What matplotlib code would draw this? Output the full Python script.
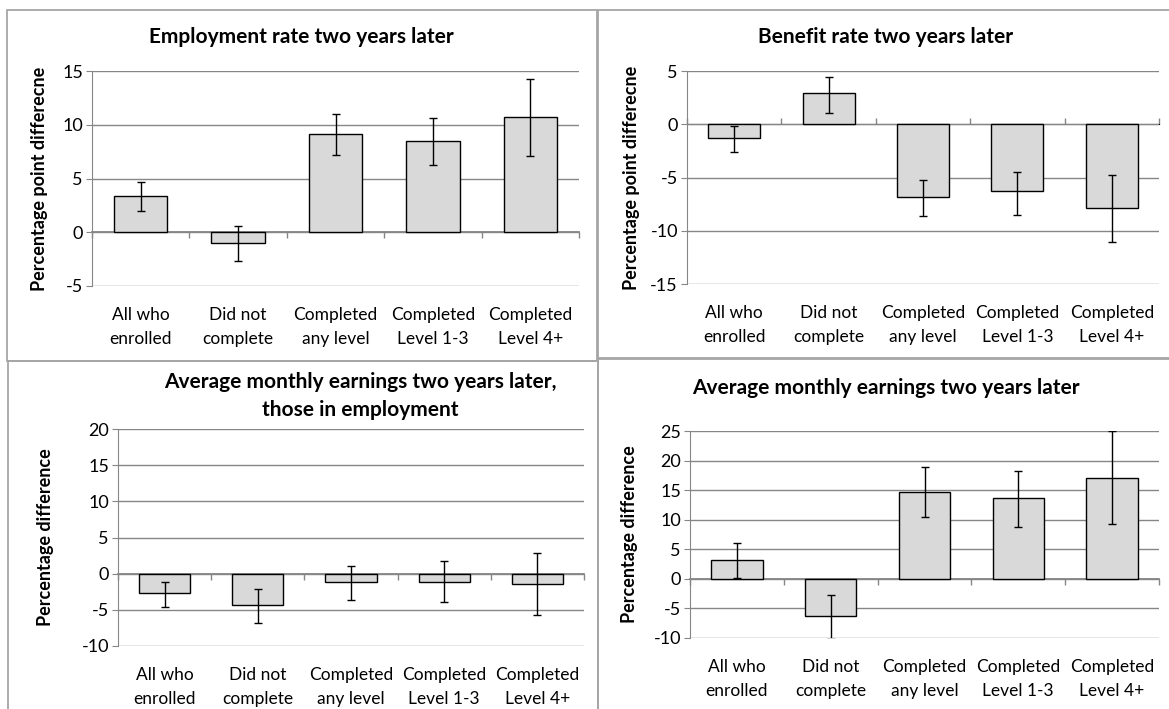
import matplotlib.pyplot as plt
import matplotlib.patches as patches
import numpy as np

plt.rcParams['font.family'] = ['Lato', 'DejaVu Sans']
plt.rcParams['axes.unicode_minus'] = False

categories = ['All who\nenrolled', 'Did not\ncomplete', 'Completed\nany level',
              'Completed\nLevel 1-3', 'Completed\nLevel 4+']

# panel values: estimate, upper and lower end of the interval
emp_rate = [3.4, -1.0, 9.1, 8.5, 10.7]
emp_hi = [4.7, 0.6, 11.0, 10.6, 14.3]
emp_lo = [2.0, -2.7, 7.2, 6.3, 7.1]

ben_rate = [-1.3, 2.9, -6.8, -6.3, -7.9]
ben_hi = [-0.2, 4.4, -5.2, -4.5, -4.8]
ben_lo = [-2.6, 1.1, -8.6, -8.5, -11.1]

earn_emp = [-2.7, -4.3, -1.2, -1.2, -1.4]
earn_emp_hi = [-1.1, -2.1, 1.1, 1.7, 2.8]
earn_emp_lo = [-4.6, -6.8, -3.6, -3.9, -5.7]

earn_all = [3.2, -6.2, 14.7, 13.7, 17.1]
earn_all_hi = [6.0, -2.8, 18.9, 18.3, 25.0]
earn_all_lo = [0.2, -10.1, 10.4, 8.8, 9.3]

W, H = 1169, 709
fig = plt.figure(figsize=(W / 100, H / 100), dpi=100)

border = '#A6A6A6'
grid = '#868686'


def px_box(x0, y0, x1, y1):
    return [x0 / W, 1 - y1 / H, (x1 - x0) / W, (y1 - y0) / H]


# chart area borders
for x0, y0, x1, y1 in [(7, 10, 597, 361), (598, 10, 1175, 358),
                       (8, 361, 598, 715), (598, 359, 1175, 715)]:
    fig.add_artist(patches.Rectangle((x0 / W, 1 - y1 / H), (x1 - x0) / W, (y1 - y0) / H,
                                     transform=fig.transFigure, fill=False,
                                     edgecolor=border, linewidth=1.3))


def panel(box, vals, hi, lo, ylim, step, title, title_xy, ylabel, ylabel_x):
    ax = fig.add_axes(px_box(*box))
    x = np.arange(len(categories))
    vals = np.array(vals)
    err = [vals - np.array(lo), np.array(hi) - vals]
    ax.bar(x, vals, width=0.55, color='#D9D9D9', edgecolor='black', linewidth=1.0, zorder=3)
    ax.errorbar(x, vals, yerr=err, fmt='none', ecolor='black', elinewidth=1.0,
                capsize=3.2, capthick=1.0, zorder=4)
    ax.set_xlim(-0.5, 4.5)
    ax.set_ylim(*ylim)
    ax.set_yticks(np.arange(ylim[0], ylim[1] + 0.1, step))
    ax.yaxis.grid(True, color=grid, linewidth=1.0)
    ax.set_axisbelow(True)
    for s in ['top', 'right', 'bottom']:
        ax.spines[s].set_visible(False)
    ax.spines['left'].set_color(grid)
    ax.tick_params(axis='y', direction='out', length=4.5, color=grid, labelsize=13, pad=2)
    ax.set_xticks(x)
    ax.set_xticklabels(categories, fontsize=12.5, linespacing=1.6)
    ax.tick_params(axis='x', length=0, pad=15)
    # zero line with category boundary ticks
    loc = (0 - ylim[0]) / (ylim[1] - ylim[0])
    sec = ax.secondary_xaxis(loc)
    sec.set_xticks(np.arange(-0.5, 4.6, 1.0))
    sec.set_xticklabels([])
    sec.tick_params(direction='out', length=4.5, color=grid, width=1.0)
    sec.spines['bottom'].set_color(grid)
    sec.spines['bottom'].set_linewidth(1.3)
    fig.text(title_xy[0] / W, 1 - title_xy[1] / H, title, ha='center', va='center',
             fontsize=15, fontweight='bold', linespacing=1.45)
    fig.text(ylabel_x / W, 1 - (box[1] + box[3]) / 2 / H, ylabel, rotation=90,
             ha='center', va='center', fontsize=13, fontweight='bold')
    return ax


panel((92, 71, 579, 286), emp_rate, emp_hi, emp_lo, (-5, 15), 5,
      'Employment rate two years later', (301, 37),
      'Percentage point differecne', 40)
panel((687, 71, 1159, 284), ben_rate, ben_hi, ben_lo, (-15, 5), 5,
      'Benefit rate two years later', (886, 37),
      'Percentage point differecne', 631)
panel((118, 429, 584, 646), earn_emp, earn_emp_hi, earn_emp_lo, (-10, 20), 5,
      'Average monthly earnings two years later,\nthose in employment', (360, 396),
      'Percentage difference', 46)
panel((690, 431, 1159, 638), earn_all, earn_all_hi, earn_all_lo, (-10, 25), 5,
      'Average monthly earnings two years later', (886, 388),
      'Percentage difference', 629)

fig.savefig('out.png', dpi=100)
